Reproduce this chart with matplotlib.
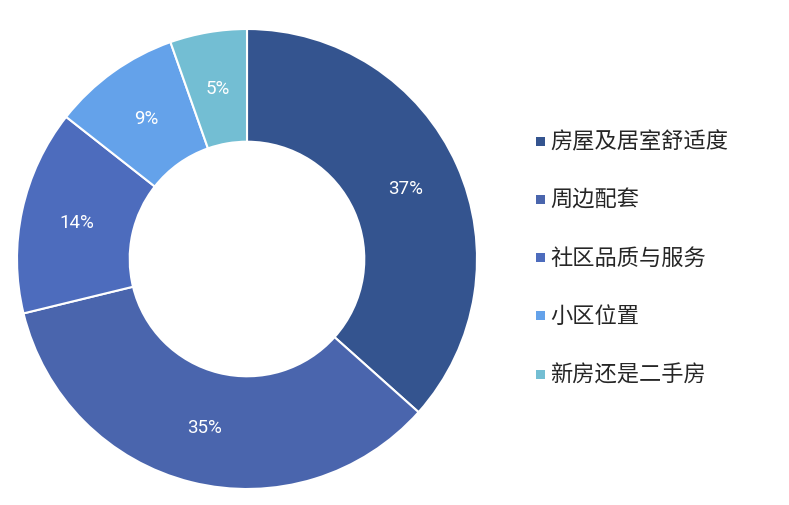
import matplotlib
matplotlib.use("Agg")
import matplotlib.pyplot as plt
from matplotlib.patches import Rectangle
import numpy as np

plt.rcParams['font.family'] = ['Noto Sans CJK SC', 'DejaVu Sans']

# data (shares, labels shown rounded)
categories = ['房屋及居室舒适度', '周边配套', '社区品质与服务', '小区位置', '新房还是二手房']
shares = [36.6, 34.6, 14.4, 9.0, 5.4]
colors = ['#34548f', '#4a65ad', '#4d6cbd', '#64a2ea', '#73bed3']

fig = plt.figure(figsize=(7.89, 5.06), dpi=100)
# square axes, donut centre near (247, 260) px, radius ~230 px
ax = fig.add_axes([17 / 789, 16 / 506, 460 / 789, 460 / 506])
wedges, texts = ax.pie(shares, colors=colors, startangle=90, counterclock=False,
                       radius=1.0,
                       wedgeprops=dict(width=0.49, edgecolor='white', linewidth=1.5))
ax.set_xlim(-1, 1)
ax.set_ylim(-1, 1)
ax.set_aspect('equal')
ax.axis('off')

tot = sum(shares)
start = 90.0
for v in shares:
    mid = start - v / tot * 360 / 2
    r = 0.755
    ax.text(r * np.cos(np.radians(mid)), r * np.sin(np.radians(mid)), f'{v:.0f}%',
            ha='center', va='center', color='white', fontsize=13.5,
            family=['Roboto', 'DejaVu Sans'])
    start -= v / tot * 360

# legend
row_y = [142, 200, 258, 316, 375]
for lab, col, y in zip(categories, colors, row_y):
    fy = 1 - y / 506
    fig.patches.append(Rectangle((536 / 789, fy - 5 / 506), 9 / 789, 9 / 506,
                                 transform=fig.transFigure, facecolor=col,
                                 edgecolor='none'))
    fig.text(550 / 789, fy, lab, ha='left', va='center', fontsize=16, color='#262626')

fig.savefig('out.png', dpi=100, facecolor='white')
